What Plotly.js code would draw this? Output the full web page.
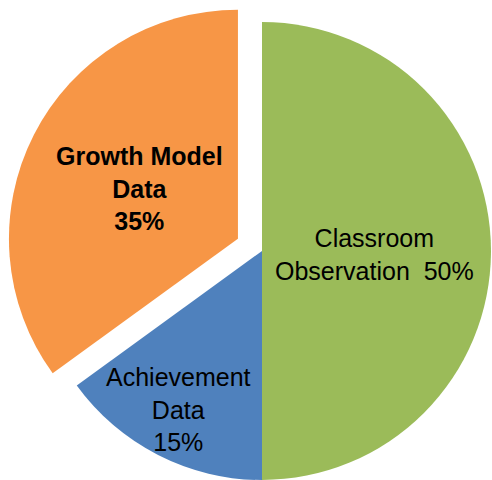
<!DOCTYPE html>
<html>
<head>
<meta charset="utf-8">
<script src="https://cdn.plot.ly/plotly-3.0.1.min.js"></script>
<style>
  html, body { margin: 0; padding: 0; width: 492px; height: 480px; overflow: hidden; background: #ffffff; }
  #chart { position: absolute; left: 6px; top: -5px; width: 512px; height: 512px; }
</style>
</head>
<body>
<div id="chart"></div>
<script>
// Data
const categories = ["Classroom Observation", "Achievement Data", "Growth Model Data"];
const values = [50, 15, 35];
const sliceColors = ["#9BBB59", "#4F81BD", "#F79646"];
const pulls = [0, 0, 0.118];
const labelTexts = [
  "Classroom<br>Observation  50%",
  "Achievement<br>Data<br>15%",
  "<b>Growth Model<br>Data<br>35%</b>"
];
// label anchor positions (paper coords)
const labelX = [0.7207, 0.336, 0.2598];
const labelY = [0.494, 0.1914, 0.623];

const trace = {
  type: "pie",
  labels: categories,
  values: values,
  sort: false,
  direction: "clockwise",
  rotation: 0,
  pull: pulls,
  marker: { colors: sliceColors, line: { width: 0 } },
  textinfo: "none",
  hoverinfo: "label+percent",
  domain: { x: [0, 1], y: [0, 1] }
};

const annotations = labelTexts.map((t, i) => ({
  text: t,
  x: labelX[i],
  y: labelY[i],
  xref: "paper",
  yref: "paper",
  xanchor: "center",
  yanchor: "middle",
  align: "center",
  showarrow: false,
  font: { family: "Liberation Sans, Arial, sans-serif", size: 25, color: "#000000" }
}));

const layout = {
  width: 512,
  height: 512,
  margin: { l: 0, r: 0, t: 0, b: 0 },
  paper_bgcolor: "rgba(0,0,0,0)",
  plot_bgcolor: "rgba(0,0,0,0)",
  showlegend: false,
  annotations: annotations
};

Plotly.newPlot("chart", [trace], layout, { displayModeBar: false, staticPlot: true });
</script>
</body>
</html>
